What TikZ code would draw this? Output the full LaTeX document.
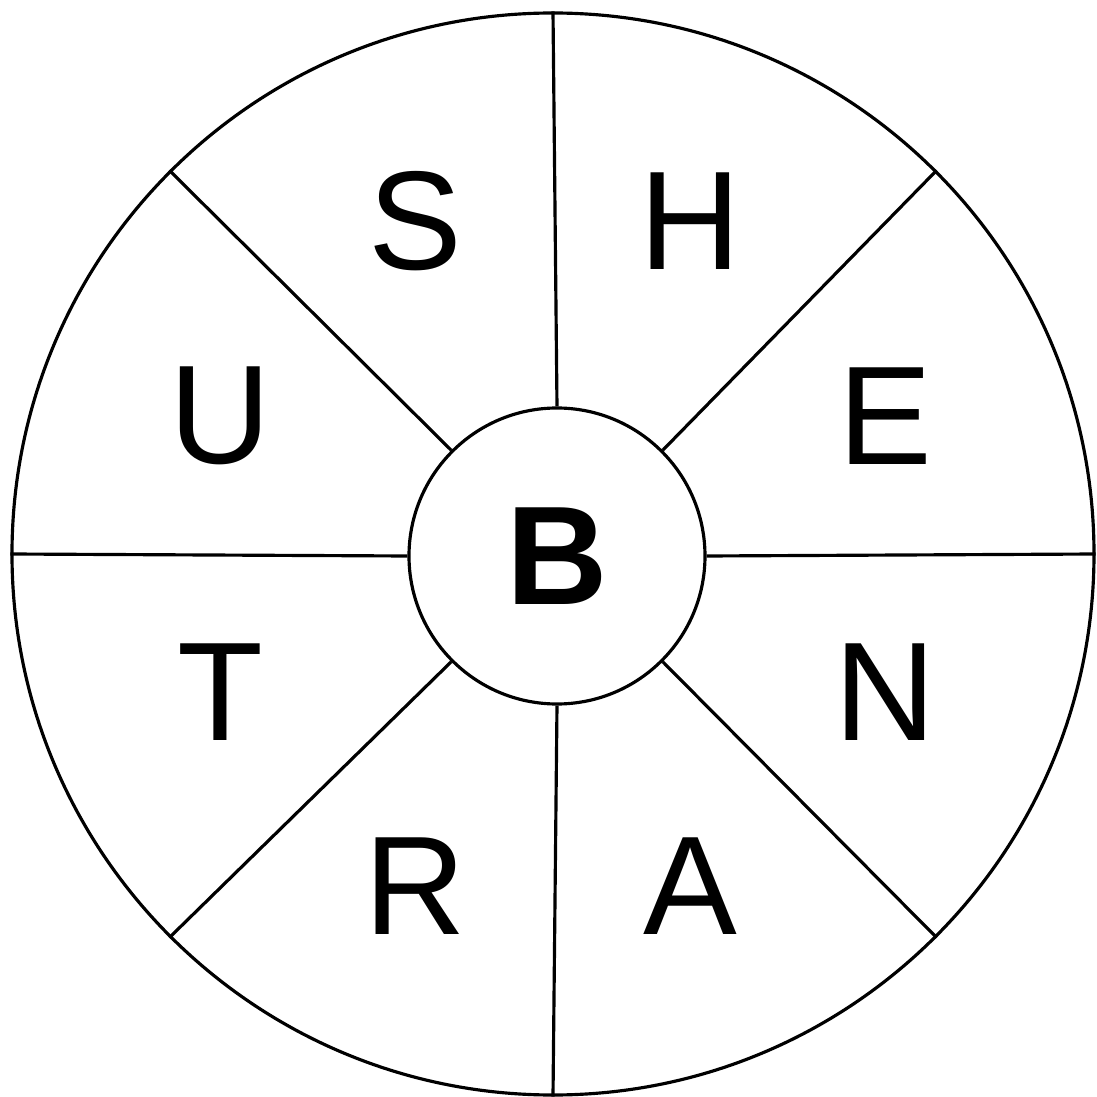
\documentclass[tikz,border=0pt]{standalone}
\usepackage{fontspec}
\setmainfont{Liberation Sans}
\begin{document}
\begin{tikzpicture}[
  wheel/.style={circle, draw=black, line width=0.9pt, inner sep=0pt},
  letter/.style={font=\fontsize{40}{48}\selectfont, inner sep=0pt}
]
\useasboundingbox (-5.53,-5.43) rectangle (5.43,5.54);
% Rim and hub
\node[wheel, minimum size=10.82cm] (rim) at (0,0) {};
\node[wheel, minimum size=2.96cm, font=\fontsize{40}{48}\selectfont\bfseries] (hub) at (0.04,-0.02) {B};
% Spokes
\foreach \a in {0,45,...,315}
  \draw[line width=0.9pt] (hub.\a) -- (rim.\a);
% Letters round the hub
\node[letter] (h) at (67.5:3.6)  {H};
\node[letter] (s) at (112.5:3.6) {S};
\node[letter] (u) at (157.5:3.6) {U};
\node[letter] (t) at (202.5:3.6) {T};
\node[letter] (r) at (247.5:3.6) {R};
\node[letter] (a) at (292.5:3.6) {A};
\node[letter] (n) at (337.5:3.6) {N};
\node[letter] (e) at (22.5:3.6)  {E};
\end{tikzpicture}
\end{document}
